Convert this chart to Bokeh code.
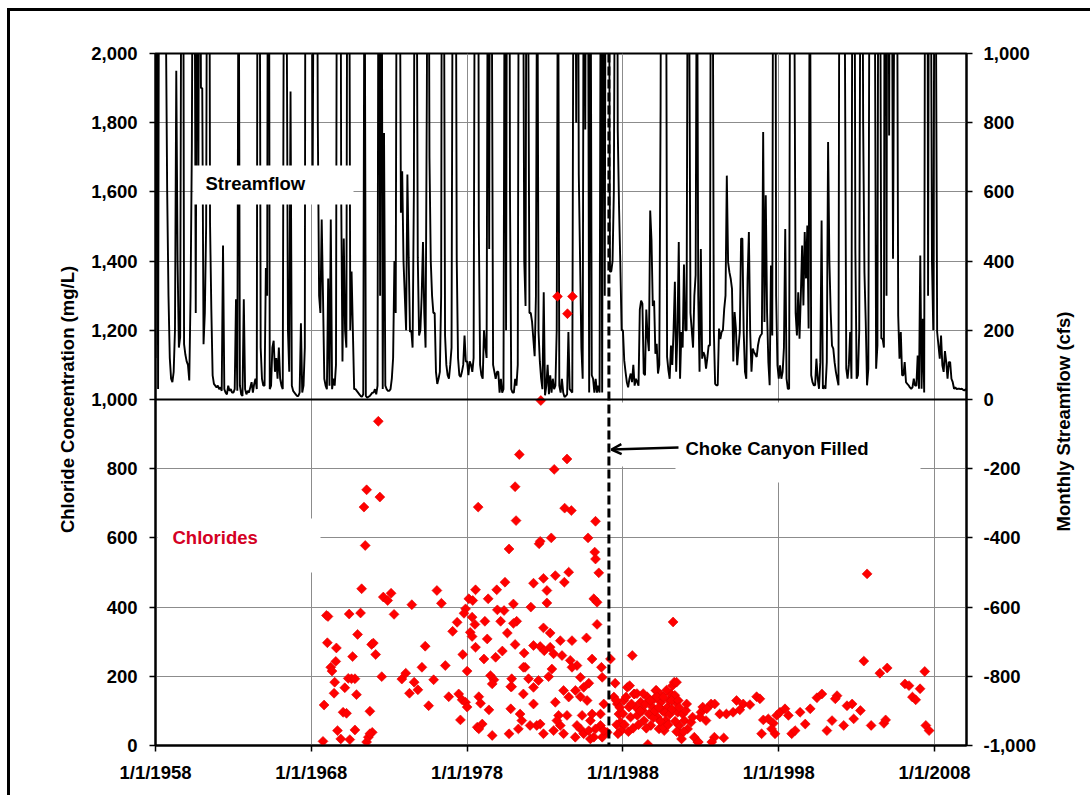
import numpy as np
from bokeh.plotting import figure
from bokeh.models import (Range1d, LinearAxis, FixedTicker, NumeralTickFormatter,
                          CustomJSTickFormatter, Span, Label, BoxAnnotation, Arrow, OpenHead)
from bokeh.embed import file_html
from bokeh.resources import INLINE

# ---------------- data ----------------
# Monthly streamflow (cfs), January 1958 onward, one list per decade
flow_1958_1967 = [
    120, 1600, 30, 2000, 2800, 1400, 2200, 1400, 1100, 600, 300, 120,
    60, 50, 80, 200, 950, 400, 150, 180, 1500, 2200, 160, 130,
    110, 100, 55, 300, 730, 1800, 1500, 250, 1600, 600, 2000, 900,
    900, 160, 250, 500, 1800, 2500, 510, 260, 70, 45, 40, 35,
    40, 30, 35, 25, 445, 30, 20, 15, 40, 25, 30, 20,
    20, 30, 290, 25, 1500, 40, 15, 10, 290, 30, 15, 25,
    20, 35, 50, 20, 45, 60, 30, 2500, 1800, 150, 60, 40,
    40, 380, 300, 2500, 30, 40, 150, 170, 80, 120, 60, 150,
    60, 40, 30, 1500, 2500, 1200, 200, 80, 890, 40, 25, 20,
    15, 10, 10, 20, 220, 20, 40, 150, 3000, 2000, 1200, 1100,
]
flow_1968_1977 = [
    2000, 600, 1500, 1000, 2000, 800, 300, 250, 520, 300, 60, 40,
    30, 350, 40, 520, 30, 60, 40, 100, 2000, 1500, 2500, 600,
    110, 465, 200, 150, 2000, 1800, 200, 370, 200, 30, 30, 25,
    20, 15, 10, 8, 15, 1500, 10, 5, 8, 10, 15, 20,
    20, 30, 15, 40, 2000, 300, 1800, 30, 770, 40, 30, 25,
    25, 30, 60, 120, 400, 250, 1800, 2500, 1500, 540, 660, 400,
    300, 200, 650, 410, 195, 200, 150, 600, 2200, 1500, 410, 185,
    200, 300, 455, 250, 150, 900, 2000, 700, 400, 300, 250, 250,
    80, 45, 60, 80, 300, 2500, 1500, 185, 100, 70, 60, 100,
    150, 1500, 2500, 1800, 405, 120, 70, 65, 80, 100, 185, 110,
]
flow_1978_1987 = [
    110, 70, 110, 100, 80, 120, 1500, 2800, 3000, 500, 100, 70,
    60, 200, 155, 120, 1500, 435, 2500, 1200, 100, 80, 60, 80,
    80, 20, 60, 20, 30, 1500, 200, 2000, 3000, 600, 30, 20,
    20, 60, 40, 100, 1800, 2500, 1000, 1500, 400, 270, 2000, 1200,
    250, 250, 225, 175, 125, 300, 1500, 195, 110, 60, 30, 310,
    12, 40, 100, 15, 70, 20, 60, 30, 40, 200, 1500, 40,
    20, 60, 20, 7, 10, 15, 195, 30, 25, 20, 1500, 2000,
    800, 2000, 650, 400, 150, 60, 1800, 780, 2200, 1500, 20, 1500,
    70, 60, 20, 60, 20, 40, 20, 1500, 20, 1800, 300, 2000,
    2500, 1800, 370, 370, 400, 600, 1500, 2500, 780, 556, 390, 200,
]
flow_1988_1997 = [
    200, 113, 80, 50, 35, 60, 75, 50, 100, 40, 60, 50,
    40, 260, 286, 277, 75, 70, 260, 180, 140, 546, 460, 270,
    286, 132, 161, 75, 100, 845, 2500, 1200, 2000, 1800, 123, 85,
    60, 156, 100, 200, 340, 80, 195, 455, 60, 195, 150, 390,
    200, 200, 1500, 1200, 250, 200, 150, 300, 360, 1500, 300, 80,
    435, 118, 137, 127, 89, 120, 156, 156, 2000, 1500, 200, 45,
    41, 41, 205, 175, 195, 200, 262, 300, 647, 397, 368, 349,
    320, 110, 253, 205, 99, 150, 195, 465, 465, 195, 80, 60,
    349, 484, 195, 80, 147, 137, 130, 123, 156, 176, 185, 190,
    773, 224, 590, 253, 108, 41, 387, 185, 2000, 2500, 300, 99,
]
flow_1998_2010 = [
    60, 99, 60, 80, 150, 493, 60, 31, 31, 1800, 2200, 1500,
    1200, 250, 185, 310, 176, 300, 445, 272, 484, 350, 503, 205,
    1500, 70, 50, 41, 41, 118, 60, 31, 108, 517, 31, 40,
    31, 108, 744, 400, 253, 156, 147, 108, 80, 60, 41, 2000,
    1500, 2500, 1800, 1000, 89, 60, 100, 195, 60, 2000, 2000, 435,
    60, 70, 200, 1500, 2000, 800, 368, 224, 41, 89, 1500, 2500,
    1800, 3000, 1200, 89, 156, 2000, 1500, 176, 176, 150, 2500, 300,
    2500, 763, 2000, 1500, 407, 1200, 2000, 1500, 243, 118, 195, 70,
    70, 108, 50, 45, 41, 35, 31, 35, 60, 40, 40, 127,
    31, 416, 31, 233, 20, 2000, 3000, 300, 2000, 1500, 400, 200,
    1500, 1200, 195, 156, 118, 185, 99, 80, 140, 108, 60, 108,
    108, 60, 50, 31, 35, 30, 31, 31, 30, 31, 28, 26,
    30, 26, 70,
]

# Chloride samples: decimal year and concentration (mg/L)
chl_year_a = [1972.30, 1971.55, 1972.40, 1971.38, 1978.71, 1971.46, 1980.69, 1971.23, 1972.62, 1973.12,
              1972.90, 1974.45, 1976.06, 1976.35, 1978.54, 1978.11, 1978.36, 1979.35, 1979.90, 1980.43,
              1977.90, 1977.80, 1979.94, 1980.37, 1968.97, 1969.07, 1970.43, 1971.16, 1973.31, 1977.36,
              1978.32, 1978.50, 1979.14, 1980.15, 1980.58, 1970.97, 1977.07, 1978.20, 1978.32, 1979.29,
              1969.03, 1969.61, 1971.87, 1971.98, 1972.13, 1975.31, 1978.54, 1970.65, 1977.72, 1980.26,
              1979.83, 1979.08, 1969.57, 1969.25, 1969.33, 1976.60, 1975.10, 1978.00, 1972.52, 1970.37,
              1970.58, 1970.80, 1973.81, 1974.06, 1975.85, 1979.50, 1979.72, 1979.61, 1969.50, 1974.60,
              1970.15, 1969.46, 1970.90, 1974.30, 1974.84, 1980.80, 1976.82, 1977.46, 1977.68, 1977.90,
              1978.75, 1978.86, 1968.82, 1975.53, 1978.00, 1970.04, 1970.26, 1971.76, 1979.40, 1980.80,
              1977.57, 1978.65, 1978.97, 1978.75, 1969.68, 1970.80, 1971.91, 1979.61, 1980.69, 1968.75,
              1969.89, 1970.47, 1971.55, 1971.66, 1971.76]
chl_val_a = [937, 739, 718, 689, 689, 578, 568, 453, 429, 440,
             419, 407, 448, 411, 450, 424, 419, 424, 450, 472,
             395, 382, 392, 390, 376, 373, 380, 383, 379, 356,
             371, 350, 359, 359, 325, 321, 330, 327, 315, 308,
             297, 282, 292, 296, 263, 287, 284, 257, 263, 273,
             255, 250, 243, 226, 215, 231, 226, 215, 199, 194,
             193, 193, 192, 209, 190, 202, 190, 178, 183, 183,
             167, 151, 147, 151, 161, 170, 141, 149, 132, 125,
             141, 122, 117, 115, 111, 96, 93, 99, 103, 106,
             74, 53, 62, 48, 43, 45, 38, 29, 34, 12,
             19, 17, 10, 24, 34]

chl_year_b = [1981.35, 1984.41, 1983.59, 1981.08, 1984.26, 1984.69, 1981.14, 1986.24, 1985.76, 1983.40,
              1982.62, 1982.69, 1986.19, 1986.24, 1986.45, 1984.52, 1984.24, 1983.66, 1982.90, 1982.26,
              1983.12, 1986.13, 1986.34, 1983.12, 1982.09, 1980.97, 1986.34, 1981.18, 1980.97, 1982.90,
              1983.33, 1981.08, 1982.26, 1982.69, 1983.33, 1983.98, 1984.73, 1985.66, 1981.66, 1982.95,
              1984.09, 1984.62, 1985.05, 1986.02, 1981.72, 1983.44, 1983.23, 1981.94, 1985.27, 1985.81,
              1986.62, 1986.67, 1980.86, 1981.61, 1982.26, 1983.66, 1985.27, 1981.40, 1981.51, 1982.47,
              1982.69, 1983.87, 1983.98, 1985.38, 1985.27, 1985.91, 1986.56, 1982.90, 1984.19, 1984.94,
              1985.91, 1986.99, 1986.67, 1983.80, 1984.76, 1984.44, 1982.73,
              1980.86, 1981.61, 1982.26, 1982.58, 1983.55, 1984.19, 1984.52, 1984.73, 1984.95, 1985.48,
              1985.70, 1986.02, 1986.24, 1986.56, 1986.77, 1986.77, 1981.29, 1982.04, 1983.55, 1983.76,
              1984.41, 1985.05, 1985.48, 1985.81, 1986.13]
chl_val_b = [841, 828, 798, 748, 686, 679, 650, 648, 600, 600,
             583, 590, 559, 539, 499, 501, 472, 491, 483, 469,
             448, 424, 414, 412, 400, 409, 350, 359, 353, 340,
             325, 292, 289, 286, 284, 303, 303, 311, 267, 274,
             260, 246, 231, 250, 226, 221, 199, 193, 197, 180,
             226, 197, 170, 149, 120, 125, 141, 91, 72, 58,
             62, 87, 58, 87, 48, 72, 58, 34, 34, 24,
             19, 38, 24, 1298, 1298, 1248, 997,
             193, 226, 168, 188, 265, 159, 140, 226, 159, 168,
             130, 91, 48, 91, 120, 43, 48, 58, 43, 72,
             87, 58, 34, 43, 24]

chl_year_c = [1987.20, 1988.60, 1987.42, 1987.64, 1987.74, 1987.85, 1988.06, 1988.28, 1988.39, 1988.49,
              1988.71, 1988.82, 1988.92, 1989.14, 1989.25, 1989.35, 1989.57, 1989.68, 1989.79, 1989.89,
              1990.00, 1990.11, 1990.22, 1990.32, 1990.43, 1990.54, 1990.65, 1990.75, 1990.86, 1990.97,
              1991.08, 1991.18, 1991.29, 1991.40, 1991.51, 1991.61, 1991.72, 1991.83, 1991.94, 1992.04,
              1992.15, 1992.37, 1992.47, 1992.58, 1992.80, 1993.01, 1993.12, 1993.33, 1993.66, 1993.87,
              1991.22, 1989.60, 1988.43, 1988.75, 1987.57, 1988.00, 1987.89, 1987.68, 1990.15, 1990.47,
              1991.44, 1991.33, 1991.12, 1991.55, 1992.09, 1990.58, 1991.76, 1992.84, 1993.70, 1992.95,
              1993.38,
              1987.50, 1987.60, 1987.80, 1988.10, 1988.20, 1988.35, 1988.55, 1988.65, 1988.90, 1989.00,
              1989.10, 1989.30, 1989.45, 1989.50, 1989.75, 1989.95, 1990.05, 1990.20, 1990.30, 1990.40,
              1990.60, 1990.70, 1990.80, 1990.90, 1991.00, 1991.15, 1991.35, 1991.45, 1991.60, 1991.90]
chl_val_c = [250, 260, 140, 120, 91, 67, 130, 168, 111, 82,
             149, 111, 87, 125, 101, 72, 140, 91, 58, 111,
             135, 159, 82, 48, 125, 101, 43, 72, 111, 130,
             149, 173, 183, 125, 96, 58, 34, 91, 72, 101,
             48, 67, 82, 24, 10, 96, 111, 72, 120, 24,
             357, 3, 173, 149, 130, 92, 43, 34, 159, 145,
             183, 145, 130, 130, 120, 53, 19, 10, 10, 82,
             106,
             180, 60, 110, 60, 140, 40, 120, 50, 150, 60,
             100, 150, 120, 50, 130, 80, 100, 140, 110, 70,
             140, 95, 160, 60, 90, 105, 70, 40, 110, 40]

chl_year_d = [2003.67, 2003.46, 2004.49, 2004.96, 2007.37, 2006.10, 2006.36, 2007.07, 2006.58, 2006.79,
              2007.44, 2007.65, 1995.29, 1995.72, 1996.15, 1996.58, 1996.79, 1993.89, 1994.21, 1994.64,
              1995.07, 1995.50, 1994.47, 1997.01, 1997.33, 1997.65, 1997.87, 1998.08, 1998.40, 1998.62,
              1997.76, 1997.54, 1996.90, 1998.83, 1999.05, 1999.70, 1999.37, 2000.02, 2000.45, 2000.77,
              2001.09, 2001.42, 2001.74, 2001.63, 2002.17, 2002.38, 2002.71, 2002.81, 2003.24, 2003.93,
              2004.75, 2004.86]
chl_val_d = [496, 244, 209, 224, 214, 178, 173, 164, 140, 132,
             58, 43, 130, 120, 118, 141, 135, 120, 91, 91,
             96, 103, 22, 74, 77, 64, 87, 96, 106, 87,
             34, 48, 34, 34, 43, 62, 96, 106, 138, 149,
             43, 72, 144, 135, 58, 115, 120, 77, 101, 58,
             64, 74]

x_ticks = [1958, 1968, 1978, 1988, 1998, 2008]
left_ticks = list(range(0, 2001, 200))
right_ticks = list(range(-1000, 1001, 200))
choke_canyon_filled = 1987.1

# ---------------- assemble ----------------
flow = flow_1958_1967 + flow_1968_1977 + flow_1978_1987 + flow_1988_1997 + flow_1998_2010
flow_x = [1958 + m / 12.0 for m in range(len(flow))]
chl_x = chl_year_a + chl_year_b + chl_year_c + chl_year_d
chl_y = chl_val_a + chl_val_b + chl_val_c + chl_val_d

X0, X1 = 1958.0, 2010.05
FL, FR, FT, FB = 155, 966, 53, 745   # frame edges on the page (px)
W, H = 1090, 787
OX, OY = 10, 11                      # canvas origin on the page (margin + border)


def px_to_x(px):
    return X0 + (px - FL) * (X1 - X0) / (FR - FL)


def py_to_y(py):
    return (FB - py) * 2000.0 / (FB - FT)


FONT = "Liberation Sans"
FS = "18.5px"

p = figure(width=W, height=H, output_backend="svg", toolbar_location=None,
           x_range=Range1d(X0, X1), y_range=Range1d(0, 2000),
           min_border_left=FL - OX, min_border_right=W - (FR - OX),
           min_border_top=FT - OY, min_border_bottom=H - (FB - OY))
p.styles = {"margin-left": "7px", "margin-top": "8px",
            "border-left": "3px solid black", "border-top": "3px solid black"}
p.extra_y_ranges = {"flow": Range1d(-1000, 1000)}
p.background_fill_color = "white"
p.border_fill_color = "white"
p.outline_line_color = "black"
p.outline_line_width = 2

p.xaxis.ticker = FixedTicker(ticks=x_ticks)
p.xaxis.formatter = CustomJSTickFormatter(code="return '1/1/' + Math.round(tick);")
p.yaxis.ticker = FixedTicker(ticks=left_ticks)
p.yaxis.formatter = NumeralTickFormatter(format="0,0")
p.yaxis.axis_label = "Chloride Concentration (mg/L)"

rax = LinearAxis(y_range_name="flow", ticker=FixedTicker(ticks=right_ticks),
                 formatter=NumeralTickFormatter(format="0,0"))
p.add_layout(rax, "right")

# second (rule-less) right axis carrying the right-hand title as a rotated label,
# anchored where the original title begins (reading bottom to top)
title_start_y = 531
title_tick = -(title_start_y - (FT + FB) / 2) * 2000.0 / (FB - FT)
tax = LinearAxis(y_range_name="flow", ticker=FixedTicker(ticks=[title_tick]),
                 formatter=CustomJSTickFormatter(code="return 'Monthly Streamflow (cfs)';"))
p.add_layout(tax, "right")

for ax in [p.xaxis[0], p.yaxis[0], rax, tax]:
    ax.axis_line_color = "black"
    ax.axis_line_width = 2
    ax.major_tick_line_color = "black"
    ax.major_tick_line_width = 1.5
    ax.major_tick_out = 6
    ax.major_tick_in = 0
    ax.minor_tick_out = 0
    ax.minor_tick_in = 0
    ax.major_label_text_font = FONT
    ax.major_label_text_font_style = "bold"
    ax.major_label_text_font_size = FS
    ax.major_label_text_color = "black"
    ax.axis_label_text_font = FONT
    ax.axis_label_text_font_style = "bold"
    ax.axis_label_text_font_size = FS
    ax.axis_label_text_color = "black"
p.yaxis[0].major_label_standoff = 12
p.yaxis[0].axis_label_standoff = 10
rax.major_label_standoff = 11
p.xaxis[0].major_label_standoff = 10

tax.axis_line_alpha = 0.0
tax.major_tick_line_alpha = 0.0
tax.major_tick_out = 0
tax.major_label_standoff = 25
tax.major_label_orientation = float(np.pi / 2)

p.xgrid.ticker = FixedTicker(ticks=x_ticks)
p.ygrid.ticker = FixedTicker(ticks=left_ticks)
for g in [p.xgrid[0], p.ygrid[0]]:
    g.grid_line_color = "#8c8c8c"
    g.grid_line_width = 1

# streamflow line (right axis)
p.line(flow_x, flow, y_range_name="flow", line_color="black", line_width=1.9)

# chlorides
p.scatter(chl_x, chl_y, marker="square", angle=np.pi / 4, size=7,
          fill_color="#ff0000", line_color="#e00000", line_width=0.6)

# zero line of streamflow
p.add_layout(Span(location=1000, dimension="width", line_color="black", line_width=2))


# white text boxes
def wbox(l, r, t, b):
    p.add_layout(BoxAnnotation(left=px_to_x(l), right=px_to_x(r), top=py_to_y(t), bottom=py_to_y(b),
                               fill_color="white", fill_alpha=1.0, line_alpha=0))


wbox(193, 353, 165, 204)
wbox(157, 320, 518, 572)
wbox(612, 700, 402, 466)
wbox(675, 920, 402, 482)

# Choke Canyon filled marker
p.add_layout(Span(location=choke_canyon_filled, dimension="height", line_color="black",
                  line_width=3, line_dash="9 4"))
p.add_layout(Arrow(end=OpenHead(size=10, line_width=2.5, line_color="black"),
                   x_start=px_to_x(678), y_start=py_to_y(447),
                   x_end=px_to_x(611), y_end=py_to_y(449),
                   line_width=2.5, line_color="black"))


def lbl(txt, px, py, color="black"):
    p.add_layout(Label(x=px_to_x(px), y=py_to_y(py), text=txt, text_font=FONT,
                       text_font_style="bold", text_font_size=FS, text_color=color,
                       text_baseline="middle", text_align="left"))


lbl("Streamflow", 205, 183)
lbl("Chlorides", 172, 537, color="#d40024")
lbl("Choke Canyon Filled", 685, 448)

html = file_html(p, INLINE, title="Chlorides and Streamflow")
html = html.replace("</head>", "<style>html, body { overflow: hidden !important; }</style></head>", 1)
open("out.html", "w").write(html)
